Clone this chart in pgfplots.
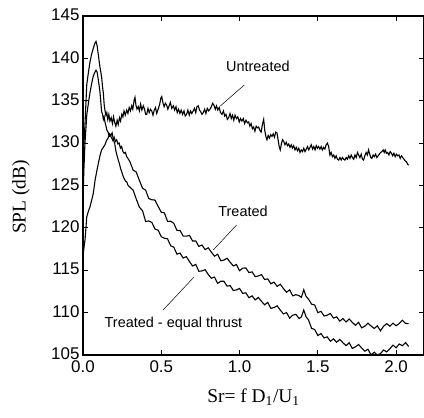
\documentclass[border=0pt]{standalone}
\usepackage{fontspec}
\setmainfont{Liberation Serif}
\newfontfamily\arial{Liberation Sans}
\usepackage{pgfplots}
\pgfplotsset{compat=1.18}
\newcommand{\tl}{\arial\fontsize{17}{20}\selectfont}
\newcommand{\ann}{\arial\fontsize{14.5}{17}\selectfont}
\begin{document}
\begin{tikzpicture}
\begin{axis}[
 scale only axis, width=341bp, height=339bp,
 xmin=0, xmax=2.178, ymin=105, ymax=145,
 xtick={0,0.5,1,1.5,2}, xticklabels={0.0,0.5,1.0,1.5,2.0},
 ytick={105,110,115,120,125,130,135,140,145},
 yticklabels={105,110,115,120,125,130,135,140,145},
 tick align=inside, major tick length=5bp,
 ticklabel style={font=\tl},
 xticklabel style={yshift=-2bp},
 yticklabel style={yshift=1bp},
 axis line style={line width=1.2pt},
 tick style={line width=0.9pt, black},
 xlabel={Sr= f D\textsubscript{1}/U\textsubscript{1}},
 ylabel={SPL (dB)},
 label style={font=\fontsize{19.5}{23}\selectfont},
 xlabel style={at={(axis description cs:0.5,-0.124)}, anchor=center},
 ylabel style={at={(axis description cs:-0.182,0.466)}, anchor=center},
 every axis plot/.append style={line width=1.1pt, black},
]
\addplot[no marks] coordinates {
(0.000,125.0)(0.005,129.5)(0.012,132.0)(0.024,136.9)(0.035,138.4)(0.045,139.6)(0.055,140.5)(0.066,141.2)(0.076,141.8)(0.083,142.0)
(0.090,141.5)(0.098,140.4)(0.108,139.0)(0.119,137.8)(0.125,136.6)(0.130,135.9)(0.135,134.6)(0.140,133.9)(0.146,133.3)(0.152,133.6)
(0.158,132.8)(0.165,133.4)(0.172,132.6)(0.180,133.0)(0.188,132.3)(0.195,133.1)(0.203,132.4)(0.210,132.0)(0.218,132.7)(0.225,132.2)
(0.233,133.0)(0.240,132.6)(0.248,133.4)(0.255,133.1)(0.262,133.8)(0.270,133.3)(0.279,133.9)(0.287,133.5)(0.295,134.2)(0.303,133.8)
(0.311,134.4)(0.318,134.0)(0.326,135.0)(0.332,135.4)(0.338,134.5)(0.345,134.0)(0.353,134.3)(0.360,133.8)(0.368,134.6)(0.376,133.9)
(0.385,134.4)(0.393,134.0)(0.400,133.4)(0.407,133.4)(0.415,134.1)(0.423,133.6)(0.431,134.0)(0.439,133.8)(0.447,133.3)(0.455,133.9)
(0.463,134.2)(0.471,133.5)(0.480,134.0)(0.490,134.6)(0.497,135.3)(0.503,135.5)(0.510,134.8)(0.518,134.3)(0.526,134.7)(0.534,134.5)
(0.542,134.0)(0.550,134.4)(0.558,134.8)(0.567,134.1)(0.577,134.4)(0.585,133.9)(0.594,134.3)(0.602,133.6)(0.610,134.0)(0.619,133.5)
(0.627,133.9)(0.636,133.4)(0.645,133.8)(0.653,133.2)(0.662,133.4)(0.670,133.9)(0.679,133.3)(0.687,133.8)(0.695,133.5)(0.704,133.8)
(0.712,134.1)(0.720,133.6)(0.728,134.3)(0.736,134.4)(0.744,133.9)(0.752,133.7)(0.760,133.4)(0.768,133.6)(0.777,134.0)(0.785,133.5)
(0.794,134.1)(0.803,133.8)(0.811,134.0)(0.820,134.3)(0.828,134.7)(0.836,134.5)(0.845,134.0)(0.853,134.4)(0.861,133.9)(0.870,134.2)
(0.878,133.6)(0.888,133.4)(0.897,133.8)(0.905,133.2)(0.913,133.4)(0.922,132.8)(0.930,133.0)(0.939,133.5)(0.947,132.9)(0.955,133.3)
(0.963,132.7)(0.971,133.3)(0.980,132.9)(0.989,133.1)(0.998,132.5)(1.006,132.9)(1.015,132.6)(1.024,132.9)(1.032,132.3)(1.041,132.7)
(1.050,132.4)(1.058,132.5)(1.066,132.0)(1.074,132.3)(1.082,131.7)(1.090,131.9)(1.098,131.4)(1.106,132.0)(1.114,131.8)(1.122,131.9)
(1.130,131.5)(1.138,131.3)(1.146,132.2)(1.154,132.8)(1.161,131.5)(1.168,130.8)(1.175,130.4)(1.183,130.9)(1.191,130.6)(1.199,131.0)
(1.207,130.8)(1.215,131.1)(1.223,130.7)(1.231,131.3)(1.239,131.2)(1.246,130.4)(1.253,129.6)(1.260,129.2)(1.268,130.0)(1.275,130.4)
(1.282,130.2)(1.290,129.8)(1.298,130.1)(1.306,129.7)(1.314,129.9)(1.322,129.5)(1.330,129.8)(1.338,129.4)(1.346,129.7)(1.354,129.2)
(1.362,129.5)(1.370,129.1)(1.378,129.4)(1.386,128.9)(1.394,129.2)(1.402,129.0)(1.410,129.4)(1.418,129.0)(1.426,129.3)(1.434,129.6)
(1.442,129.2)(1.450,129.5)(1.458,129.8)(1.466,129.3)(1.474,129.6)(1.482,129.2)(1.490,129.7)(1.498,129.4)(1.505,129.6)(1.513,129.3)
(1.521,129.6)(1.529,129.2)(1.537,129.5)(1.545,129.3)(1.553,129.8)(1.561,130.0)(1.569,129.6)(1.577,128.6)(1.585,128.9)(1.593,128.4)
(1.601,128.6)(1.609,128.2)(1.617,128.5)(1.625,128.1)(1.633,128.0)(1.641,128.3)(1.649,128.0)(1.657,128.3)(1.665,128.1)(1.673,128.0)
(1.681,128.3)(1.689,128.1)(1.697,128.5)(1.705,128.2)(1.713,128.6)(1.721,128.3)(1.729,128.1)(1.737,128.6)(1.745,128.3)(1.753,128.9)
(1.761,128.6)(1.769,128.3)(1.777,128.7)(1.785,128.1)(1.792,128.0)(1.800,128.5)(1.808,128.9)(1.816,128.6)(1.824,129.2)(1.831,128.7)
(1.838,128.3)(1.845,128.2)(1.853,128.6)(1.861,128.4)(1.869,128.7)(1.877,128.3)(1.885,128.5)(1.893,128.7)(1.901,128.9)(1.909,129.0)
(1.917,129.2)(1.924,128.9)(1.930,129.2)(1.938,128.8)(1.946,128.9)(1.954,128.6)(1.962,129.0)(1.970,128.8)(1.978,128.5)(1.986,128.8)
(1.994,128.4)(2.002,128.7)(2.010,128.5)(2.018,128.6)(2.026,128.2)(2.034,128.5)(2.042,128.3)(2.050,128.1)(2.058,127.9)(2.066,127.8)
(2.074,127.5)(2.080,127.4)
};
\addplot[no marks] coordinates {
(0.000,123.0)(0.005,126.5)(0.012,129.8)(0.024,133.3)(0.035,134.8)(0.045,136.0)(0.055,137.0)(0.064,137.8)(0.074,138.3)(0.083,138.6)
(0.090,138.4)(0.096,137.7)(0.103,136.8)(0.109,135.9)(0.114,134.8)(0.119,133.7)(0.125,133.4)(0.130,132.8)(0.135,133.1)(0.140,132.5)
(0.147,132.0)(0.153,131.5)(0.160,131.3)(0.167,130.8)(0.175,130.9)(0.183,130.6)(0.191,130.3)(0.199,130.7)(0.207,130.2)(0.215,130.4)
(0.223,129.9)(0.231,130.0)(0.239,129.4)(0.247,129.6)(0.255,129.0)(0.263,128.8)(0.271,128.9)(0.279,128.4)(0.287,128.2)
(0.30,127.8)(0.32,126.82)(0.34,126.59)(0.36,125.61)(0.38,124.68)(0.40,124.45)(0.42,123.46)(0.44,123.32)(0.46,123.28)(0.48,122.54)
(0.50,121.85)(0.52,121.76)(0.54,120.77)(0.56,120.78)(0.58,120.54)(0.60,119.7)(0.62,119.69)(0.64,119.03)(0.66,119.02)(0.68,119.11)
(0.70,118.45)(0.72,118.46)(0.74,117.82)(0.76,117.98)(0.78,117.44)(0.80,117.65)(0.82,117.13)(0.84,116.66)(0.86,116.89)(0.88,116.12)
(0.90,116.2)(0.92,116.42)(0.94,115.94)(0.96,115.51)(0.98,115.68)(1.00,114.95)(1.02,115.24)(1.04,115.28)(1.06,114.72)(1.08,114.81)
(1.10,114.25)(1.12,114.32)(1.14,114.49)(1.16,113.91)(1.18,113.98)(1.20,113.4)(1.22,113.6)(1.24,113.1)(1.26,113.35)(1.28,112.85)
(1.30,112.4)(1.32,112.69)(1.34,111.98)(1.36,112.12)(1.38,112.0)(1.395,111.8)(1.41,112.7)(1.425,111.9)(1.44,111.6)(1.46,111.0)
(1.48,110.9)(1.50,110.0)(1.52,110.15)(1.54,109.6)(1.56,109.7)(1.58,109.9)(1.60,109.35)(1.62,109.5)(1.64,109.0)(1.66,109.3)
(1.68,108.9)(1.70,109.25)(1.72,108.85)(1.74,108.5)(1.76,108.85)(1.78,108.2)(1.80,108.4)(1.82,108.76)(1.84,108.42)(1.86,108.13)
(1.88,108.44)(1.90,107.85)(1.92,108.4)(1.94,108.7)(1.96,108.4)(1.98,108.75)(2.00,108.45)(2.02,108.72)(2.04,109.1)(2.06,108.72)
(2.08,108.7)
};
\addplot[no marks] coordinates {
(0.000,116.5)(0.005,117.5)(0.013,118.6)(0.024,121.3)(0.035,122.0)(0.045,122.5)(0.056,123.3)(0.066,124.1)(0.077,125.6)(0.088,126.7)
(0.098,127.6)(0.108,128.5)(0.119,129.2)(0.130,129.5)(0.140,129.8)(0.150,130.3)(0.160,130.6)(0.170,131.1)(0.178,130.9)(0.186,131.2)
(0.194,130.4)(0.202,130.0)(0.210,129.1)(0.218,128.5)(0.225,128.0)(0.232,127.6)(0.240,127.0)(0.248,126.6)(0.256,126.1)(0.264,125.8)
(0.272,125.5)(0.280,125.4)(0.288,125.0)
(0.30,124.8)(0.32,124.46)(0.34,123.42)(0.36,122.43)(0.38,122.04)(0.40,120.75)(0.42,120.82)(0.44,120.64)(0.46,119.86)(0.48,119.73)
(0.50,118.95)(0.52,118.78)(0.54,118.71)(0.56,117.89)(0.58,117.72)(0.60,116.9)(0.62,117.02)(0.64,116.44)(0.66,116.61)(0.68,116.03)
(0.70,115.5)(0.72,115.69)(0.74,114.88)(0.76,114.92)(0.78,115.06)(0.80,114.5)(0.82,114.05)(0.84,114.2)(0.86,113.45)(0.88,113.7)
(0.90,113.7)(0.92,113.12)(0.94,113.19)(0.96,112.61)(0.98,112.68)(1.00,112.85)(1.02,112.27)(1.04,112.34)(1.06,111.76)(1.08,111.98)
(1.10,111.5)(1.12,111.79)(1.14,111.33)(1.16,110.92)(1.18,111.21)(1.20,110.5)(1.22,110.6)(1.24,110.8)(1.26,110.3)(1.28,109.85)
(1.30,110.0)(1.32,109.35)(1.34,109.7)(1.36,109.8)(1.38,109.3)(1.395,109.5)(1.41,110.3)(1.425,109.5)(1.44,109.15)(1.46,108.15)
(1.48,108.0)(1.50,107.3)(1.52,107.53)(1.54,107.01)(1.56,107.14)(1.58,106.62)(1.60,106.9)(1.62,106.5)(1.64,106.85)(1.66,106.45)
(1.68,106.1)(1.70,106.45)(1.72,105.78)(1.74,105.96)(1.76,106.24)(1.78,105.82)(1.80,105.45)(1.82,105.68)(1.84,105.0)(1.86,105.33)
(1.88,105.0)(1.90,105.17)(1.92,105.59)(1.94,105.36)(1.96,105.74)(1.98,106.17)(2.00,105.85)(2.02,106.3)(2.04,106.1)(2.06,106.47)
(2.08,106.0)
};
\node[font=\ann, inner sep=0pt] at (axis cs:1.117,139.1) {Untreated};
\draw[line width=0.5pt] (axis cs:1.030,136.86) -- (axis cs:0.877,134.38);
\node[font=\ann, inner sep=0pt] at (axis cs:1.022,121.9) {Treated};
\draw[line width=0.5pt] (axis cs:0.981,120.34) -- (axis cs:0.832,117.39);
\node[font=\ann, inner sep=0pt] at (axis cs:0.578,108.7) {Treated - equal thrust};
\draw[line width=0.5pt] (axis cs:0.511,110.3) -- (axis cs:0.709,114.2);
\end{axis}
\pgfresetboundingbox
\path[use as bounding box] ([xshift=-83bp,yshift=-63bp]current axis.south west) rectangle ([yshift=16bp]current axis.north east);
\end{tikzpicture}
\end{document}
